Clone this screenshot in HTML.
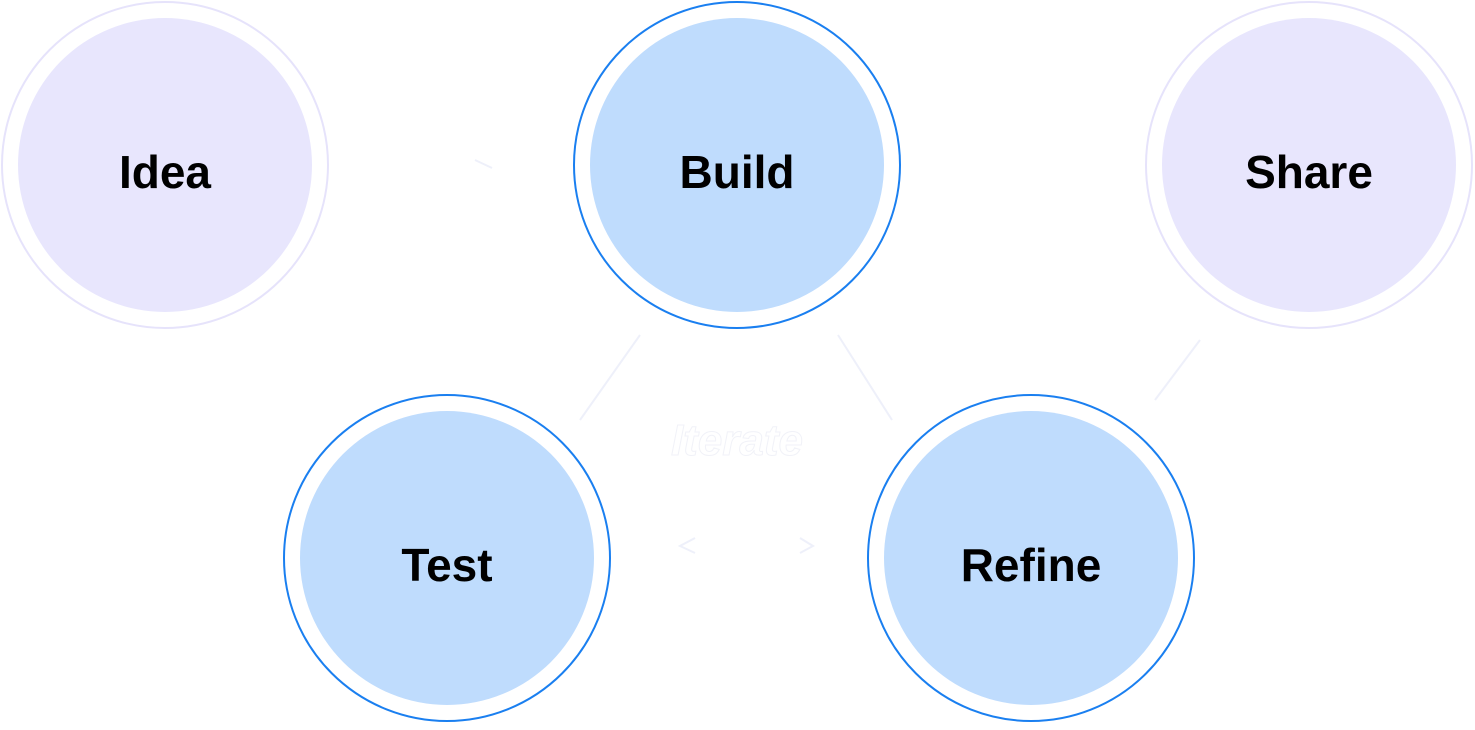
<!DOCTYPE html>
<html><head><meta charset="utf-8"><style>
html,body{margin:0;padding:0;background:#fff;}
body{width:1475px;height:725px;overflow:hidden;}
svg text{font-family:"Liberation Sans",sans-serif;font-weight:bold;}
</style></head><body>
<svg width="1475" height="725" viewBox="0 0 1475 725" xmlns="http://www.w3.org/2000/svg">
<g fill="none" stroke="#eef0fa" stroke-width="2">
<line x1="475" y1="160" x2="492" y2="168"/>
<line x1="640" y1="335" x2="580" y2="420"/>
<line x1="838" y1="335" x2="892" y2="420"/>
<line x1="1200" y1="340" x2="1155" y2="400"/>
<polyline points="695,538 680,546 695,553"/>
<polyline points="800,538 813,546 800,553"/>
</g>
<text x="737" y="455" text-anchor="middle" font-size="44" font-style="italic" fill="none" stroke="#f1f2f8" stroke-width="1">Iterate</text>

<circle cx="165" cy="165" r="163" fill="#fff" stroke="#e6e3fb" stroke-width="2"/>
<circle cx="165" cy="165" r="147" fill="#e8e6fd"/>
<text x="165" y="188" text-anchor="middle" font-size="46" fill="#000">Idea</text>

<circle cx="737" cy="165" r="163" fill="#fff" stroke="#1a7ff0" stroke-width="2"/>
<circle cx="737" cy="165" r="147" fill="#bfdcfd"/>
<text x="737" y="188" text-anchor="middle" font-size="46" fill="#000">Build</text>

<circle cx="1309" cy="165" r="163" fill="#fff" stroke="#e6e3fb" stroke-width="2"/>
<circle cx="1309" cy="165" r="147" fill="#e8e6fd"/>
<text x="1309" y="188" text-anchor="middle" font-size="46" fill="#000">Share</text>

<circle cx="447" cy="558" r="163" fill="#fff" stroke="#1a7ff0" stroke-width="2"/>
<circle cx="447" cy="558" r="147" fill="#bfdcfd"/>
<text x="447" y="581" text-anchor="middle" font-size="46" fill="#000">Test</text>

<circle cx="1031" cy="558" r="163" fill="#fff" stroke="#1a7ff0" stroke-width="2"/>
<circle cx="1031" cy="558" r="147" fill="#bfdcfd"/>
<text x="1031" y="581" text-anchor="middle" font-size="46" fill="#000">Refine</text>
</svg>
</body></html>
